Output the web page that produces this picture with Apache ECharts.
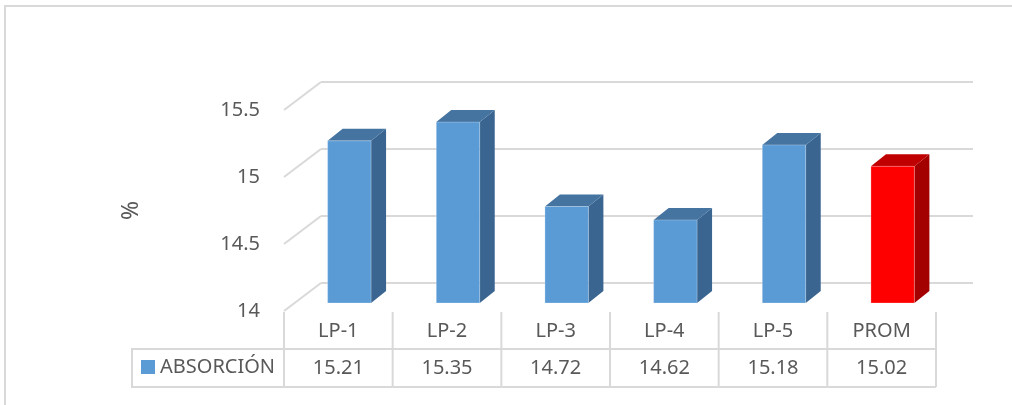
<!DOCTYPE html>
<html>
<head>
<meta charset="utf-8">
<script src="https://cdn.jsdelivr.net/npm/echarts@6/dist/echarts.min.js"></script>
<style>
  html, body { margin: 0; padding: 0; background: #ffffff; }
  #chart { width: 1012px; height: 405px; }
</style>
</head>
<body>
<div id="chart"></div>
<script>
// Absorption per sample, with the average in the last column
const categories = ['LP-1', 'LP-2', 'LP-3', 'LP-4', 'LP-5', 'PROM'];
const absorcion = [15.21, 15.35, 14.72, 14.62, 15.18, 15.02];
const yTicks = [14, 14.5, 15, 15.5];
const seriesName = 'ABSORCIÓN';
const axisName = '%';
const averageLabel = 'PROM';

const FONT = "'Noto Sans', 'Open Sans', sans-serif";
const TEXT = '#595959';
const GRID_LINE = '#D9D9D9';

// oblique projection: depth of the whole plot box and of a single bar
const WALL_DX = 37, WALL_DY = -28;
const BAR_DX = 15, BAR_DY = -12;

const blueFaces = { front: '#5B9BD5', top: '#4574A1', side: '#3A6590' };
const redFaces = { front: '#FF0000', top: '#C00000', side: '#A30000' };

const yMin = yTicks[0];
const yMax = yTicks[yTicks.length - 1];
const yStep = yTicks[1] - yTicks[0];

const chart = echarts.init(document.getElementById('chart'));

function renderBar(params, api) {
  const idx = api.value(0);
  const top = api.coord([idx, api.value(1)]);
  const base = api.coord([idx, yMin]);
  const w = api.size([1, 0])[0] * 0.4;
  const x0 = top[0] - w / 2, x1 = top[0] + w / 2;
  const yt = top[1], yb = base[1];
  const faces = categories[idx] === averageLabel ? redFaces : blueFaces;
  return {
    type: 'group',
    children: [
      { type: 'polygon', shape: { points: [[x1, yt], [x1 + BAR_DX, yt + BAR_DY], [x1 + BAR_DX, yb + BAR_DY], [x1, yb]] },
        style: { fill: faces.side } },
      { type: 'polygon', shape: { points: [[x0, yt], [x0 + BAR_DX, yt + BAR_DY], [x1 + BAR_DX, yt + BAR_DY], [x1, yt]] },
        style: { fill: faces.top } },
      { type: 'rect', shape: { x: x0, y: yt, width: w, height: yb - yt },
        style: { fill: faces.front, stroke: 'rgba(255,255,255,0.25)', lineWidth: 1 } }
    ]
  };
}

// side-wall diagonals plus back-wall gridlines for each tick
function renderWall(params, api) {
  const y = api.coord([0, api.value(1)])[1];
  const x = params.coordSys.x;
  const wdt = params.coordSys.width;
  const style = { stroke: GRID_LINE, lineWidth: 2 };
  return {
    type: 'group',
    children: [
      { type: 'line', shape: { x1: x, y1: y, x2: x + WALL_DX, y2: y + WALL_DY }, style },
      { type: 'line', shape: { x1: x + WALL_DX, y1: y + WALL_DY, x2: x + WALL_DX + wdt, y2: y + WALL_DY }, style }
    ]
  };
}

// data table under the plot: category row and value row
function renderTable(params, api) {
  const idx = api.value(0);
  const cx = api.coord([idx, yMin])[0];
  const bw = api.size([1, 0])[0];
  const xl = cx - bw / 2, xr = cx + bw / 2;
  const floor = params.coordSys.y + params.coordSys.height;
  const r0 = floor + 1, r1 = floor + 38, r2 = floor + 76;
  const style = { stroke: GRID_LINE, lineWidth: 2 };
  const children = [
    { type: 'line', shape: { x1: xl, y1: r0, x2: xl, y2: r2 }, style },
    { type: 'line', shape: { x1: xl, y1: r1, x2: xr, y2: r1 }, style },
    { type: 'line', shape: { x1: xl, y1: r2, x2: xr, y2: r2 }, style },
    { type: 'text', x: cx, y: (r0 + r1) / 2 + 1,
      style: { text: categories[idx], fill: TEXT, font: '20px ' + FONT, align: 'center', verticalAlign: 'middle' } },
    { type: 'text', x: cx, y: (r1 + r2) / 2,
      style: { text: api.value(1).toFixed(2), fill: TEXT, font: '20px ' + FONT, align: 'center', verticalAlign: 'middle' } }
  ];
  if (idx === categories.length - 1) {
    children.push({ type: 'line', shape: { x1: xr, y1: r0, x2: xr, y2: r2 }, style });
  }
  return { type: 'group', children };
}

const tableLeft = 132;
const frontLeft = 284;
const frontTop = 110;
const plotW = 652;
const plotH = 201;

const option = {
  animation: false,
  backgroundColor: '#ffffff',
  textStyle: { fontFamily: FONT },
  legend: {
    data: [seriesName],
    left: 136,
    top: 352,
    icon: 'rect',
    itemWidth: 14,
    itemHeight: 14,
    itemGap: 0,
    textStyle: { fontSize: 20, color: TEXT, fontFamily: FONT },
    selectedMode: false
  },
  grid: [
    // front plane: axis labels, side wall, data table
    { left: frontLeft, top: frontTop, width: plotW, height: plotH, outerBoundsMode: 'none' },
    // plane of the bars' front faces
    { left: frontLeft + 11, top: frontTop - 8, width: plotW, height: plotH, outerBoundsMode: 'none' }
  ],
  xAxis: [
    { type: 'category', gridIndex: 0, data: categories, show: false },
    { type: 'category', gridIndex: 1, data: categories, show: false }
  ],
  yAxis: [
    {
      type: 'value', gridIndex: 0, min: yMin, max: yMax, interval: yStep,
      axisLine: { show: false }, axisTick: { show: false }, splitLine: { show: false },
      axisLabel: { color: TEXT, fontSize: 20, fontFamily: FONT, margin: 24 },
      name: axisName, nameLocation: 'middle', nameRotate: 90, nameGap: 141,
      nameTextStyle: { color: TEXT, fontSize: 23, fontFamily: FONT }
    },
    {
      type: 'value', gridIndex: 1, min: yMin, max: yMax, interval: yStep, show: false,
      splitLine: { show: false }
    }
  ],
  graphic: [
    { type: 'rect', shape: { x: 5, y: 6, width: 1030, height: 430 },
      style: { fill: 'none', stroke: GRID_LINE, lineWidth: 2 }, silent: true, z: -1 },
    { type: 'polyline', shape: { points: [[frontLeft, frontTop + plotH + 38], [tableLeft, frontTop + plotH + 38],
        [tableLeft, frontTop + plotH + 76], [frontLeft, frontTop + plotH + 76]] },
      style: { fill: 'none', stroke: GRID_LINE, lineWidth: 2 }, silent: true }
  ],
  series: [
    {
      type: 'custom', name: 'wall', xAxisIndex: 0, yAxisIndex: 0, z: 1,
      data: yTicks.map(v => [0, v]), renderItem: renderWall, silent: true
    },
    {
      type: 'custom', name: 'table', xAxisIndex: 0, yAxisIndex: 0, z: 1,
      data: absorcion.map((v, i) => [i, v]), renderItem: renderTable, silent: true
    },
    {
      type: 'custom', name: seriesName, xAxisIndex: 1, yAxisIndex: 1, z: 5,
      itemStyle: { color: blueFaces.front },
      data: absorcion.map((v, i) => [i, v]), renderItem: renderBar
    }
  ]
};

chart.setOption(option);
</script>
</body>
</html>
